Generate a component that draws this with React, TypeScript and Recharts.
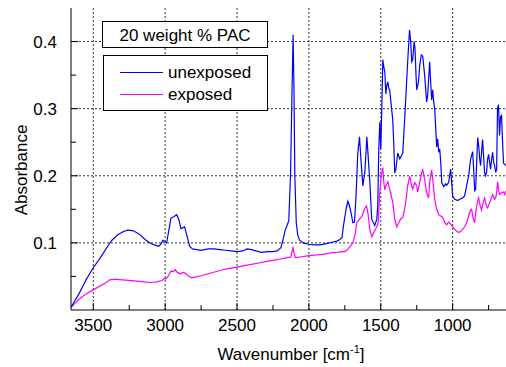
import React from "react";
import { LineChart, Line, XAxis, YAxis, ReferenceLine } from "recharts";

// wavenumber [cm-1] and absorbance
const wnUnexposed = [
  3655, 3600, 3550, 3500, 3450, 3400, 3370, 3330, 3290, 3260,
  3220, 3180, 3140, 3100, 3060, 3045, 3030, 3015, 3005, 2990,
  2975, 2960, 2940, 2920, 2905, 2890, 2875, 2865, 2850, 2830,
  2810, 2780, 2750, 2700, 2660, 2620, 2580, 2540, 2500, 2460,
  2430, 2400, 2370, 2330, 2290, 2250, 2220, 2195, 2180, 2165,
  2150, 2140, 2128, 2118, 2110, 2104, 2098, 2088, 2078, 2065,
  2040, 2000, 1960, 1920, 1880, 1840, 1800, 1785, 1770, 1760,
  1750, 1740, 1729, 1718, 1708, 1694, 1683, 1672, 1660, 1648,
  1640, 1625, 1611, 1597, 1585, 1576, 1563, 1542, 1528, 1521,
  1514, 1507, 1500, 1493, 1486, 1479, 1472, 1465, 1458, 1451,
  1444, 1438, 1425, 1417, 1410, 1403, 1395, 1382, 1368, 1361,
  1347, 1330, 1313, 1300, 1292, 1285, 1278, 1268, 1262, 1255,
  1250, 1238, 1229, 1218, 1208, 1195, 1181, 1174, 1160, 1153,
  1146, 1139, 1132, 1125, 1111, 1104, 1097, 1090, 1083, 1076,
  1062, 1048, 1042, 1028, 1014, 1007, 1000, 985, 965, 951,
  931, 917, 903, 889, 875, 861, 854, 847, 840, 833,
  826, 819, 812, 806, 799, 792, 785, 778, 771, 764,
  757, 750, 743, 736, 729, 722, 715, 708, 701, 694,
  688, 681, 674, 667, 660, 653, 646, 639, 629,
];
const absUnexposed = [
  0.004, 0.024, 0.045, 0.063, 0.078, 0.095, 0.104, 0.112, 0.117, 0.119,
  0.118, 0.113, 0.105, 0.099, 0.096, 0.095, 0.098, 0.104, 0.102, 0.1,
  0.118, 0.137, 0.139, 0.142, 0.135, 0.121, 0.123, 0.124, 0.112, 0.095,
  0.091, 0.09, 0.089, 0.091, 0.091, 0.09, 0.089, 0.088, 0.087, 0.088,
  0.091, 0.09, 0.088, 0.086, 0.087, 0.087, 0.088, 0.093, 0.105, 0.119,
  0.127, 0.133, 0.2, 0.32, 0.41, 0.33, 0.2, 0.13, 0.112, 0.104,
  0.1, 0.098, 0.097, 0.097, 0.099, 0.101, 0.103, 0.105, 0.108, 0.125,
  0.139, 0.152, 0.162, 0.155, 0.146, 0.13, 0.131, 0.17, 0.234, 0.258,
  0.23, 0.185, 0.205, 0.258, 0.22, 0.19, 0.135, 0.126, 0.135, 0.155,
  0.24, 0.28, 0.24, 0.3, 0.373, 0.362, 0.355, 0.322, 0.335, 0.34,
  0.33, 0.328, 0.3, 0.284, 0.25, 0.204, 0.21, 0.234, 0.225, 0.228,
  0.234, 0.3, 0.37, 0.417, 0.4, 0.37, 0.373, 0.4, 0.39, 0.35,
  0.328, 0.34, 0.365, 0.38, 0.378, 0.35, 0.31, 0.32, 0.37, 0.34,
  0.313, 0.328, 0.31, 0.3, 0.243, 0.255, 0.235, 0.24, 0.22, 0.19,
  0.184, 0.188, 0.186, 0.19, 0.21, 0.19, 0.169, 0.165, 0.163, 0.165,
  0.167, 0.17, 0.185, 0.2, 0.225, 0.236, 0.21, 0.178, 0.18, 0.22,
  0.257, 0.245, 0.225, 0.215, 0.235, 0.254, 0.23, 0.205, 0.2, 0.205,
  0.225, 0.232, 0.22, 0.21, 0.225, 0.235, 0.22, 0.215, 0.205, 0.21,
  0.3, 0.306, 0.26, 0.288, 0.29, 0.25, 0.219, 0.217, 0.215,
];

const wnExposed = [
  3655, 3600, 3550, 3500, 3450, 3410, 3385, 3350, 3300, 3250,
  3200, 3150, 3100, 3060, 3020, 3005, 2995, 2980, 2960, 2945,
  2930, 2915, 2895, 2875, 2860, 2840, 2815, 2790, 2750, 2700,
  2650, 2600, 2550, 2500, 2450, 2400, 2350, 2300, 2250, 2200,
  2150, 2125, 2110, 2104, 2095, 2060, 2000, 1944, 1900, 1850,
  1800, 1770, 1750, 1730, 1710, 1694, 1680, 1667, 1650, 1630,
  1611, 1600, 1590, 1576, 1563, 1545, 1528, 1518, 1507, 1497,
  1486, 1479, 1472, 1465, 1451, 1438, 1425, 1417, 1403, 1389,
  1375, 1361, 1347, 1330, 1313, 1299, 1285, 1278, 1264, 1250,
  1243, 1229, 1215, 1208, 1195, 1181, 1167, 1160, 1146, 1139,
  1125, 1111, 1097, 1083, 1069, 1055, 1042, 1028, 1014, 1000,
  980, 965, 951, 931, 917, 903, 889, 875, 868, 861,
  847, 840, 826, 819, 812, 799, 785, 778, 771, 764,
  757, 743, 729, 722, 708, 701, 694, 688, 681, 674,
  660, 646, 639, 629,
];
const absExposed = [
  0.004, 0.016, 0.024, 0.03, 0.036, 0.041, 0.045, 0.046, 0.045, 0.044,
  0.043, 0.042, 0.041, 0.042, 0.044, 0.047, 0.046, 0.05, 0.058, 0.057,
  0.06, 0.056, 0.054, 0.056, 0.055, 0.051, 0.048, 0.049, 0.051, 0.054,
  0.057, 0.06, 0.062, 0.064, 0.066, 0.068, 0.07, 0.072, 0.074, 0.076,
  0.078, 0.079, 0.094, 0.085, 0.078, 0.079, 0.081, 0.082, 0.083, 0.085,
  0.086, 0.087, 0.087, 0.09, 0.096, 0.1, 0.112, 0.13, 0.135, 0.14,
  0.152, 0.155, 0.145, 0.12, 0.109, 0.117, 0.124, 0.13, 0.175, 0.2,
  0.212, 0.19, 0.179, 0.185, 0.191, 0.18, 0.168, 0.161, 0.135, 0.124,
  0.13, 0.136, 0.138, 0.155, 0.185, 0.199, 0.185, 0.18, 0.19, 0.185,
  0.176, 0.19, 0.205, 0.209, 0.195, 0.175, 0.167, 0.19, 0.209, 0.195,
  0.165, 0.15, 0.142, 0.14, 0.138, 0.13, 0.127, 0.131, 0.128, 0.124,
  0.119, 0.116, 0.116, 0.12, 0.124, 0.13, 0.14, 0.149, 0.15, 0.14,
  0.13, 0.145, 0.163, 0.167, 0.158, 0.149, 0.163, 0.167, 0.16, 0.154,
  0.152, 0.16, 0.168, 0.172, 0.165, 0.167, 0.175, 0.191, 0.18, 0.172,
  0.175, 0.176, 0.172, 0.178,
];

const xTicks = [3500, 3250, 3000, 2750, 2500, 2250, 2000, 1750, 1500, 1250, 1000, 750];
const xGrid = [3500, 3000, 2500, 2000, 1500, 1000];
const yTicks = [0.05, 0.1, 0.15, 0.2, 0.25, 0.3, 0.35, 0.4];
const yGrid = [0.1, 0.2, 0.3, 0.4];

const unexposed = wnUnexposed.map((wn, i) => ({ wn, a: absUnexposed[i] }));
const exposed = wnExposed.map((wn, i) => ({ wn, a: absExposed[i] }));

const FONT = "'Liberation Sans', Arial, sans-serif";
const isMajorX = (v: number) => v % 500 === 0;
const isMajorY = (v: number) => Math.round(v * 100) % 10 === 0;

const BottomTick = (props: any) => {
  const { x, y, payload } = props;
  const major = isMajorX(payload.value);
  return (
    <g>
      <line x1={x} x2={x} y1={y} y2={y - (major ? 7 : 5)} stroke="#000" />
      {major && (
        <text x={x} y={y + 21} textAnchor="middle" fontSize={17} fontFamily={FONT} fill="#000">
          {payload.value}
        </text>
      )}
    </g>
  );
};

const TopTick = (props: any) => {
  const { x, y, payload } = props;
  const major = isMajorX(payload.value);
  return <line x1={x} x2={x} y1={y} y2={y + (major ? 7 : 5)} stroke="#000" />;
};

const LeftTick = (props: any) => {
  const { x, y, payload } = props;
  const major = isMajorY(payload.value);
  return (
    <g>
      <line x1={x} x2={x + (major ? 7 : 5)} y1={y} y2={y} stroke="#000" />
      {major && (
        <text x={x - 14} y={y} dy="0.36em" textAnchor="end" fontSize={17} fontFamily={FONT} fill="#000">
          {payload.value.toFixed(1)}
        </text>
      )}
    </g>
  );
};

export default function App() {
  return (
    <div style={{ position: "absolute", left: 0, top: 0, width: 506, height: 367, background: "#fff" }}>
      <LineChart width={506} height={367} margin={{ top: 8, right: 0, bottom: 0, left: 0 }}>
        <XAxis
          xAxisId="b"
          dataKey="wn"
          type="number"
          domain={[629, 3655]}
          reversed
          allowDataOverflow
          ticks={xTicks}
          interval={0}
          height={57}
          tickSize={0}
          tickMargin={0}
          tickLine={false}
          tick={<BottomTick />}
          axisLine={{ stroke: "#000" }}
        />
        <XAxis
          xAxisId="t"
          orientation="top"
          dataKey="wn"
          type="number"
          domain={[629, 3655]}
          reversed
          allowDataOverflow
          ticks={xTicks}
          interval={0}
          height={0}
          tickSize={0}
          tickMargin={0}
          tickLine={false}
          tick={<TopTick />}
          axisLine={{ stroke: "#000" }}
        />
        <YAxis
          type="number"
          domain={[0, 0.45]}
          allowDataOverflow
          ticks={yTicks}
          interval={0}
          width={71}
          tickSize={0}
          tickMargin={0}
          tickLine={false}
          tick={<LeftTick />}
          axisLine={{ stroke: "#000" }}
        />
        {xGrid.map((v) => (
          <ReferenceLine key={"x" + v} xAxisId="b" x={v} stroke="#333" strokeDasharray="2 2" />
        ))}
        {yGrid.map((v) => (
          <ReferenceLine key={"y" + v} xAxisId="b" y={v} stroke="#333" strokeDasharray="2 2" />
        ))}
        <Line
          xAxisId="b"
          data={exposed}
          dataKey="a"
          type="linear"
          stroke="#ff00ff"
          strokeWidth={1.2}
          dot={false}
          activeDot={false}
          isAnimationActive={false}
        />
        <Line
          xAxisId="b"
          data={unexposed}
          dataKey="a"
          type="linear"
          stroke="#0000ff"
          strokeWidth={1.2}
          dot={false}
          activeDot={false}
          isAnimationActive={false}
        />
      </LineChart>
      <svg
        width={506}
        height={367}
        style={{ position: "absolute", left: 0, top: 0, pointerEvents: "none" }}
        fontFamily={FONT}
      >
        <rect x={102.5} y={21.5} width={165} height={26} fill="#fff" stroke="#000" />
        <text x={185} y={41} textAnchor="middle" fontSize={17} fill="#000">20 weight % PAC</text>
        <rect x={103.5} y={55.5} width={164} height={55} fill="#fff" stroke="#000" />
        <line x1={120} x2={163} y1={72.5} y2={72.5} stroke="#0000ff" strokeWidth={1.2} />
        <text x={168} y={78} fontSize={17} fill="#000">unexposed</text>
        <line x1={120} x2={163} y1={94.5} y2={94.5} stroke="#ff00ff" strokeWidth={1.2} />
        <text x={168} y={100} fontSize={17} fill="#000">exposed</text>
        <text transform="translate(27,170) rotate(-90)" textAnchor="middle" fontSize={17} fill="#000">
          Absorbance
        </text>
        <text x={291} y={360} textAnchor="middle" fontSize={17} fill="#000">
          Wavenumber [cm<tspan fontSize={11} dy={-7}>-1</tspan>
          <tspan dy={7}>]</tspan>
        </text>
      </svg>
    </div>
  );
}
